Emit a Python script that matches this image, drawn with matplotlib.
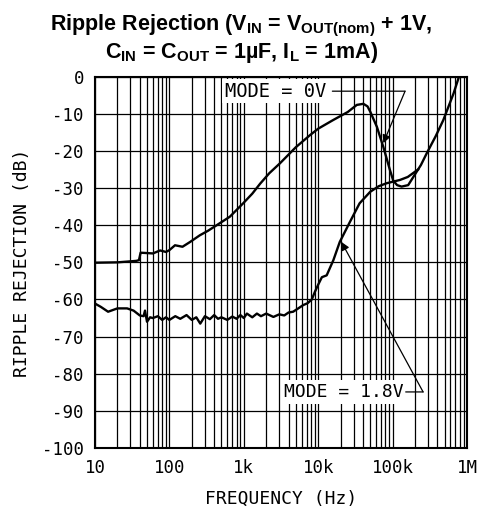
import matplotlib
matplotlib.use('Agg')
import matplotlib.pyplot as plt
from matplotlib.ticker import FixedLocator, NullFormatter

plt.rcParams['mathtext.fontset'] = 'custom'
plt.rcParams['mathtext.rm'] = 'Liberation Sans:bold'
plt.rcParams['mathtext.bf'] = 'Liberation Sans:bold'
plt.rcParams['mathtext.it'] = 'Liberation Sans:bold'

# MODE = 0V curve
freq_0v = [10, 20, 36, 39, 41, 50, 60, 75, 90, 100, 119, 150, 190, 257, 330, 432,
           650, 980, 1300, 1660, 2200, 3070, 5000, 7800, 10000, 15800, 25000,
           33000, 40500, 46000, 50000, 61500, 75000, 92000, 102000, 115000,
           132000, 162000, 190000, 240000, 288000, 380000, 480000, 660000,
           780000, 1000000]
db_0v = [-50.1, -50, -49.6, -49.4, -47.4, -47.5, -47.6, -46.8, -47.2, -46.7, -45.4,
         -45.8, -44.5, -42.7, -41.5, -40, -37.7, -34.1, -31.5, -28.8, -26, -23.3,
         -19.0, -15.7, -14, -11.7, -9.5, -7.6, -7.3, -8, -9.4, -13.5, -18.9, -25.1,
         -28, -29.2, -29.6, -29.2, -27, -23.8, -20.6, -16, -11.7, -4.5, 0, 0]

# MODE = 1.8V curve
freq_18v = [10, 12, 15, 20, 27, 33, 40, 45, 47, 50, 55, 60, 70, 80, 90, 100, 120,
            140, 170, 200, 230, 260, 300, 350, 400, 450, 500, 600, 700, 800, 900,
            1000, 1100, 1300, 1500, 1700, 2000, 2500, 3000, 3500, 4000, 4600, 5300,
            6300, 7200, 8200, 9000, 10000, 11200, 13000, 16000, 19500, 26700, 36000,
            50000, 65000, 83000, 126000, 160000, 220000]
db_18v = [-61.1, -62, -63.3, -62.4, -62.4, -63, -64.3, -64.5, -63, -66, -64.8, -65,
          -64.5, -65.5, -64.8, -65.5, -64.5, -65.2, -64.2, -65.5, -64.8, -66.5,
          -64.5, -65.3, -64.2, -65.2, -64.8, -65.5, -64.6, -65.2, -64.2, -65,
          -63.8, -64.8, -63.8, -64.5, -63.8, -64.7, -64, -64.3, -63.5, -63.3,
          -62.5, -61.5, -61, -60, -58, -56, -54, -53.5, -49.4, -44.5, -39.1,
          -34.1, -31, -29.5, -28.7, -27.8, -27, -25]

x_ticks = [10, 100, 1000, 10000, 100000, 1000000]
x_labels = ['10', '100', '1k', '10k', '100k', '1M']
y_ticks = list(range(-100, 1, 10))
y_labels = ['-100', '-90', '-80', '-70', '-60', '-50', '-40', '-30', '-20', '-10', '0']

mono = 'DejaVu Sans Mono'

fig = plt.figure(figsize=(4.83, 5.2), dpi=100)
ax = fig.add_axes([95 / 483, 1 - 448 / 520, 372 / 483, 371.3 / 520])

ax.plot(freq_0v, db_0v, color='black', lw=1.7, zorder=4)
ax.plot(freq_18v, db_18v, color='black', lw=1.7, zorder=4)

ax.set_xscale('log')
ax.set_xlim(10, 1e6)
ax.set_ylim(-100, 0)

minor = [m * 10 ** d for d in range(1, 6) for m in range(2, 10)]
ax.xaxis.set_minor_locator(FixedLocator(minor))
ax.xaxis.set_minor_formatter(NullFormatter())
ax.set_xticks(x_ticks)
ax.set_xticklabels(x_labels, family=mono, fontsize=12.5)
ax.set_yticks(y_ticks)
ax.set_yticklabels(y_labels, family=mono, fontsize=12.5)
ax.tick_params(which='both', length=0, pad=8)
ax.grid(True, which='both', axis='x', color='black', lw=0.9)
ax.grid(True, which='major', axis='y', color='black', lw=0.9)
for s in ax.spines.values():
    s.set_linewidth(1.5)

ax.set_xlabel('FREQUENCY (Hz)', family=mono, fontsize=13, labelpad=9)
ax.set_ylabel('RIPPLE REJECTION (dB)', family=mono, fontsize=13, labelpad=8)

# annotations
arr = dict(arrowstyle='-|>', color='black', lw=0.9, mutation_scale=12,
           shrinkA=0, shrinkB=0)
line = dict(arrowstyle='-', color='black', lw=0.9, shrinkA=0, shrinkB=0)

ax.text(560, -3.9, 'MODE = 0V', family=mono, fontsize=13.5, ha='left',
        va='center', zorder=5,
        bbox=dict(facecolor='white', edgecolor='none', pad=2))
ax.annotate('', xy=(147000, -3.9), xytext=(15500, -3.9), arrowprops=line, zorder=6)
ax.annotate('', xy=(75000, -17.9), xytext=(147000, -3.9), arrowprops=arr, zorder=6)

ax.text(3500, -84.9, 'MODE = 1.8V', family=mono, fontsize=13, ha='left',
        va='center', zorder=5,
        bbox=dict(facecolor='white', edgecolor='none', pad=2))
ax.annotate('', xy=(257000, -84.9), xytext=(150000, -84.9), arrowprops=line, zorder=6)
ax.annotate('', xy=(20500, -44.5), xytext=(257000, -84.9), arrowprops=arr, zorder=6)

fig.text(0.5, 1 - 30 / 520,
         r'Ripple Rejection (V$_{\mathrm{IN}}$ = V$_{\mathrm{OUT(nom)}}$ + 1V,',
         ha='center', va='baseline', family='Liberation Sans', weight='bold',
         fontsize=15.5)
fig.text(0.5, 1 - 58 / 520,
         r'C$_{\mathrm{IN}}$ = C$_{\mathrm{OUT}}$ = 1µF, I$_{\mathrm{L}}$ = 1mA)',
         ha='center', va='baseline', family='Liberation Sans', weight='bold',
         fontsize=15.5)

fig.savefig('out.png', dpi=100)
